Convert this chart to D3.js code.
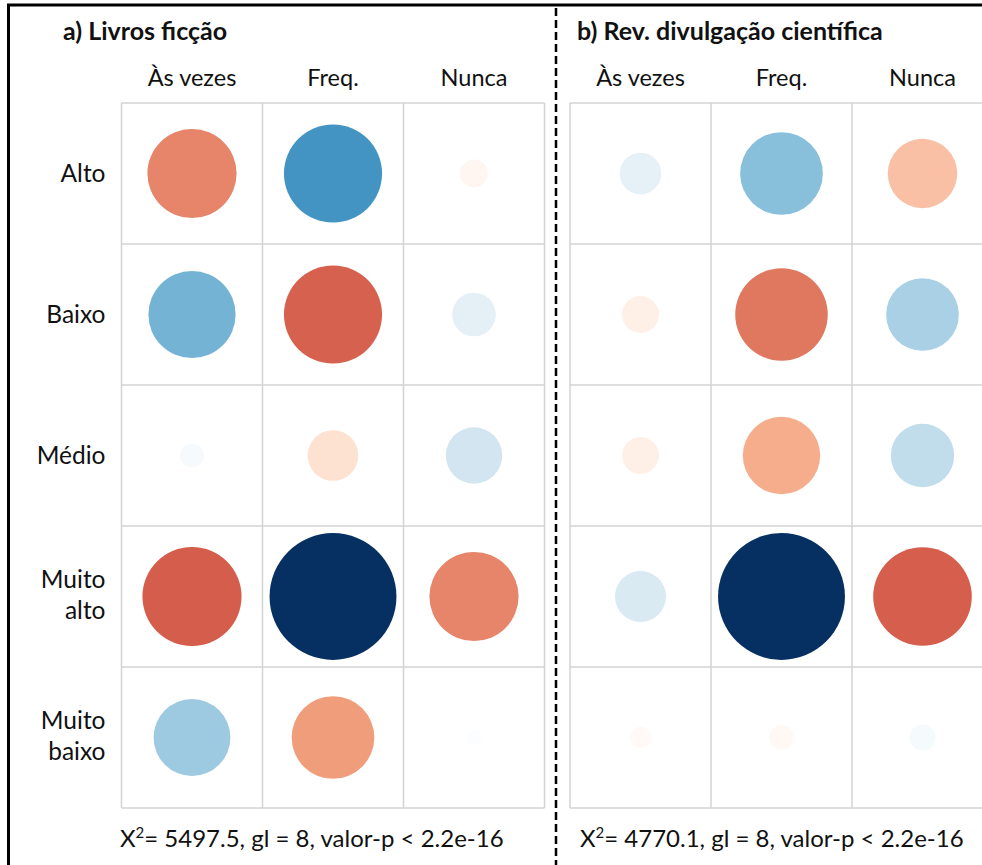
<!DOCTYPE html>
<html>
<head>
<meta charset="utf-8">
<script src="https://cdn.jsdelivr.net/npm/d3@7"></script>
<style>
  body { margin: 0; background: #fff; }
  svg text { font-family: Lato, "Open Sans", sans-serif; fill: #111; }
</style>
</head>
<body>
<div class="chart"></div>
<script>
/* dados: resíduos do qui-quadrado */
const rowLabels = ["Alto", "Baixo", "Médio", "Muito alto", "Muito baixo"];
const colLabels = ["Às vezes", "Freq.", "Nunca"];
const panelTitles = ["a) Livros ficção", "b) Rev. divulgação científica"];
const fictionResid = [
    [-20.5, 24.8, -2.0],
    [19.6, -24.8, 4.9],
    [1.5, -6.6, 8.2],
    [-25.3, 41.5, -20.5],
    [15.2, -17.6, 0.6]
];
const scienceResid = [
    [4.9, 19.4, -13.7],
    [-3.9, -24.3, 15.0],
    [-3.9, -17.0, 11.4],
    [7.4, 45.7, -27.6],
    [-1.3, -1.7, 1.9]
];
const chiSquare = ["5497.5", "4770.1"];
const degFree = [8, 8];
const pValue = ["< 2.2e-16", "< 2.2e-16"];

/* paleta RdBu com centro branco */
const paletteRdBu = ["#67001F", "#B2182B", "#D6604D", "#F4A582", "#FDDBC7", "#FFFFFF",
                     "#D1E5F0", "#92C5DE", "#4393C3", "#2166AC", "#053061"];

/* construir svg */
const svg_width = 982;
const svg_height = 865;
const cell = 141;
const grid_top = 103;

const svg = d3.select(".chart").append("svg")
    .attr("width", svg_width)
    .attr("height", svg_height);

const panels = [
    { title: panelTitles[0], values: fictionResid, left: 121.5, titleX: 63, footX: 120, labels: true },
    { title: panelTitles[1], values: scienceResid, left: 570, titleX: 577, footX: 580, labels: false }
];

function drawPanel(p, i) {
    const g = svg.append("g").attr("class", "panel");

    const xScale = d3.scaleBand().domain(colLabels).range([p.left, p.left + cell * colLabels.length]);
    const yScale = d3.scaleBand().domain(rowLabels).range([grid_top, grid_top + cell * rowLabels.length]);

    const maxAbs = d3.max(p.values.flat(), d => Math.abs(d));
    const colorScale = d3.scaleSequential(d3.piecewise(d3.interpolateRgb, paletteRdBu))
        .domain([-maxAbs, maxAbs]);
    const rScale = d3.scaleSqrt().domain([0, maxAbs]).range([0, cell * 0.45]);

    /* grade */
    const grid = g.append("g").attr("class", "grid")
        .attr("stroke", "#d3d3d3").attr("stroke-width", 1.5);
    d3.range(colLabels.length + 1).forEach(k => {
        const x = p.left + k * cell;
        grid.append("line").attr("x1", x).attr("x2", x)
            .attr("y1", yScale.range()[0]).attr("y2", yScale.range()[1]);
    });
    d3.range(rowLabels.length + 1).forEach(k => {
        const y = grid_top + k * cell;
        grid.append("line").attr("x1", xScale.range()[0]).attr("x2", xScale.range()[1])
            .attr("y1", y).attr("y2", y);
    });

    /* círculos */
    const cells = [];
    p.values.forEach((row, r) => row.forEach((v, c) => cells.push({ row: rowLabels[r], col: colLabels[c], v })));
    g.append("g").attr("class", "dots").selectAll("circle")
        .data(cells)
        .join("circle")
        .attr("cx", d => xScale(d.col) + xScale.bandwidth() / 2)
        .attr("cy", d => yScale(d.row) + yScale.bandwidth() / 2)
        .attr("r", d => rScale(Math.abs(d.v)))
        .attr("fill", d => colorScale(d.v));

    /* título */
    g.append("text")
        .attr("x", p.titleX).attr("y", 40)
        .attr("font-size", 25).attr("font-weight", "bold")
        .text(p.title);

    /* cabeçalho das colunas */
    g.selectAll(".col-label").data(colLabels).join("text")
        .attr("class", "col-label")
        .attr("x", d => xScale(d) + xScale.bandwidth() / 2)
        .attr("y", 86)
        .attr("text-anchor", "middle")
        .attr("font-size", 23.5)
        .text(d => d);

    /* rótulos das linhas */
    if (p.labels) {
        const lab = g.selectAll(".row-label").data(rowLabels).join("text")
            .attr("class", "row-label")
            .attr("text-anchor", "end")
            .attr("font-size", 24.5);
        lab.each(function (d) {
            const words = d.split(" ");
            const cy = yScale(d) + yScale.bandwidth() / 2;
            const first = cy + 8 - (words.length - 1) * 17;
            d3.select(this).selectAll("tspan").data(words).join("tspan")
                .attr("x", p.left - 16)
                .attr("y", (w, j) => first + j * 31)
                .text(w => w);
        });
    }

    /* rodapé */
    const foot = g.append("text")
        .attr("x", p.footX).attr("y", 847)
        .attr("font-size", 24);
    foot.append("tspan").text("X");
    foot.append("tspan").attr("dy", -9).attr("font-size", 15).text("2");
    foot.append("tspan").attr("dy", 9).text(`= ${chiSquare[i]}, gl = ${degFree[i]}, valor-p ${pValue[i]}`);
}

panels.forEach(drawPanel);

/* moldura e divisória */
svg.append("path")
    .attr("d", `M8.5,${svg_height} V5 H${svg_width}`)
    .attr("fill", "none").attr("stroke", "#000").attr("stroke-width", 3);
svg.append("line")
    .attr("x1", 556).attr("x2", 556).attr("y1", 8).attr("y2", svg_height)
    .attr("stroke", "#000").attr("stroke-width", 2.5)
    .attr("stroke-dasharray", "8,4");
</script>
</body>
</html>
